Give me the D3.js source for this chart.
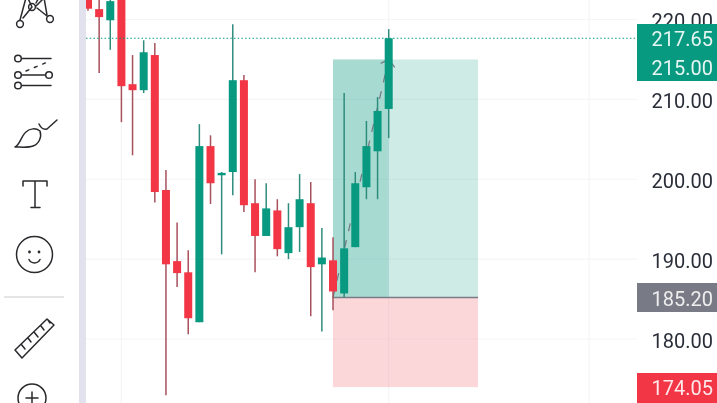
<!DOCTYPE html>
<html><head><meta charset="utf-8">
<script src="https://cdnjs.cloudflare.com/ajax/libs/d3/7.8.5/d3.min.js"></script>
<style>html,body{margin:0;padding:0;background:#fff;overflow:hidden}svg{display:block;filter:blur(.45px)}text{font-family:Roboto,sans-serif}</style>
</head><body><svg id="c" width="717" height="403"></svg>
<script>
const opens  = [223.2,221.3,219.9,223.7,211.9,211.15,215.55,198.65,189.75,188.35,182.1,204.15,200.5,200.9,212.4,197,192.9,196.1,190.75,194,197,189.35,189.85,185.7,191.5,199,203.5,208.8];
const closes = [221.35,220.3,222.3,211.65,211.15,215.9,198.4,189.35,188.25,182.6,204.15,199.5,200.8,212.4,196.75,192.9,196.35,191.25,194,197.5,189,190.2,185.95,191.35,199.5,204.15,208.55,217.65];
const highs  = [224,224.5,223.5,224.5,215.55,217.4,217.05,201.15,194.6,191.1,206.9,205.5,200.9,219.4,213.05,200,199.5,197.5,197,200.65,199.65,193.9,192.75,210.8,200.9,207.3,210.3,218.8];
const lows   = [221.1,213.3,216.2,207.15,203,210.8,197.1,172.95,186.5,180.6,182.1,196.9,190.6,198,195.9,188.35,192.9,190.35,190,190.9,182.85,180.95,183.6,185.2,191.5,197.5,197.5,205.15];
const tickValues = [220,210,200,190,180];
const gridIndexes = [3,27,45];
const lastPrice = 217.65, target = 215, entry = 185.2, stop = 174.05;
const entryIndex = 22, nowIndex = 27, endIndex = 35;

const svg = d3.select('#c');
const x = d3.scaleLinear().domain([0,27]).range([88,388.7]);
const y = d3.scaleLinear().domain([180,220]).range([339,19.5]);
const plotL = 86, plotR = 637, bw = 8;
const RED='#f23645', GREEN='#089981', GREY='#787b86';

// grid
const g = svg.append('g');
g.selectAll('.h').data(tickValues).join('line').attr('x1',plotL).attr('x2',plotR).attr('y1',d=>y(d)).attr('y2',d=>y(d)).attr('stroke','#f5f5f8').attr('stroke-width',1.2);
g.selectAll('.v').data(gridIndexes).join('line').attr('x1',d=>x(d)).attr('x2',d=>x(d)).attr('y1',0).attr('y2',403).attr('stroke','#f5f5f8').attr('stroke-width',1.2);

// position tool
const bx0 = 333, bx1 = 478;
g.append('rect').attr('x',bx0).attr('width',bx1-bx0).attr('y',y(target)).attr('height',y(entry)-y(target)).attr('fill',GREEN).attr('fill-opacity',.2);
g.append('rect').attr('x',bx0).attr('width',bx1-bx0).attr('y',y(entry)).attr('height',y(stop)-y(entry)+0.6).attr('fill',RED).attr('fill-opacity',.2);
g.append('rect').attr('x',bx0).attr('width',x(nowIndex)-bx0).attr('y',y(target)).attr('height',y(entry)-y(target)).attr('fill',GREEN).attr('fill-opacity',.2);
g.append('line').attr('x1',bx0).attr('x2',bx1).attr('y1',y(entry)).attr('y2',y(entry)).attr('stroke',GREY).attr('stroke-width',1.4);
// arrow
g.append('line').attr('x1',bx0).attr('y1',y(entry)).attr('x2',x(nowIndex)).attr('y2',y(target)).attr('stroke',GREY).attr('stroke-width',1.3).attr('stroke-dasharray','8 9');
g.append('path').attr('d',`M${x(nowIndex)-8},${y(target)+4}L${x(nowIndex)},${y(target)}L${x(nowIndex)+6},${y(target)+8}`).attr('fill','none').attr('stroke',GREY).attr('stroke-width',1.3);

// candles
const idx = d3.range(opens.length);
const col = i => closes[i]>=opens[i]?GREEN:RED;
const wickCol = i => closes[i]>=opens[i]?'#2f8c7c':'#a8505c';
g.selectAll('.w').data(idx).join('line').attr('x1',i=>x(i)).attr('x2',i=>x(i)).attr('y1',i=>y(highs[i])).attr('y2',i=>y(lows[i])).attr('stroke',wickCol).attr('stroke-width',1.5);
g.selectAll('.b').data(idx).join('rect').attr('x',i=>x(i)-bw/2).attr('width',bw)
 .attr('y',i=>y(Math.max(opens[i],closes[i]))).attr('height',i=>Math.max(1.5,Math.abs(y(opens[i])-y(closes[i])))).attr('fill',col);

// last price line
g.append('line').attr('x1',plotL).attr('x2',plotR).attr('y1',y(lastPrice)).attr('y2',y(lastPrice)).attr('stroke',GREEN).attr('stroke-width',1.1).attr('stroke-dasharray','1.5 2.2');

// left toolbar
svg.append('rect').attr('x',0).attr('y',0).attr('width',79).attr('height',403).attr('fill','#fff');
svg.append('rect').attr('x',79).attr('y',0).attr('width',7).attr('height',403).attr('fill','#e2e2ef');
const ic = svg.append('g').attr('fill','none').attr('stroke','#2a2a2e').attr('stroke-width',1.5).attr('stroke-linecap','round').attr('stroke-linejoin','round');
ic.append('path').attr('d','M23,18L32,7M37,8L47,16M20,20L27,-6M32,7L25,-8M36,3L42,-8M47,15L43,-8M36,6L44,-2');
[[20,24,3.4],[50,19,3.4],[32,7,3.4]].forEach(c=>ic.append('circle').attr('cx',c[0]).attr('cy',c[1]).attr('r',c[2]));
ic.append('path').attr('d','M22,58.5H51M22,75H45M22,85.5H51');
[[18,58.5,3.3],[18,75,3.3],[49,75,3.3],[18,85.5,3.3]].forEach(c=>ic.append('circle').attr('cx',c[0]).attr('cy',c[1]).attr('r',c[2]));
ic.append('path').attr('d','M26,71L50,61').attr('stroke-dasharray','3 6');
ic.append('path').attr('d','M15,147C20,145 21,136 26,132C30,128 36,128 40,131C42,137 39,144 33,146C28,148 20,147 15,147Z M39,124C41,128 44,130 47,129L57,120');
ic.append('path').attr('d','M23,186V181H47V186M35,181V207M31,207.5H40');
ic.append('circle').attr('cx',34.5).attr('cy',254.5).attr('r',18);
ic.append('path').attr('d','M29,259.5C31,264 38,264 40,259.5');
[[29.5,252],[39,252]].forEach(c=>ic.append('circle').attr('cx',c[0]).attr('cy',c[1]).attr('r',1.4).attr('fill','#2a2a2e').attr('stroke','none'));
svg.append('line').attr('x1',4).attr('x2',64).attr('y1',297).attr('y2',297).attr('stroke','#dcdcdc').attr('stroke-width',1.3);
ic.append('path').attr('d','M15,350L47,319L54,325L22,358Z M21,344L25,349M28,338L31,342M34,332L38,337M41,326L44,330M48,320L50,323');
ic.append('circle').attr('cx',32).attr('cy',398).attr('r',14);
ic.append('path').attr('d','M32,392V403M26,398H38');

// price axis
const ax = svg.append('g').attr('transform','translate(651.5,0)')
  .call(d3.axisRight(y).tickValues(tickValues).tickSize(0).tickPadding(0).tickFormat(d3.format('.2f')));
ax.select('.domain').remove();
ax.selectAll('text').attr('font-family','Roboto,sans-serif').attr('font-size',20).attr('fill','#2a2e39').attr('dy','.405em');

// price labels
const labels = [
  {top:24,bottom:81,fill:GREEN,c:'#e6f6f2',items:[[lastPrice,39],[target,68]]},
  {top:283,bottom:312,fill:GREY,c:'#eeeeee',items:[[entry,299]]},
  {top:373,bottom:403,fill:RED,c:'#fde8ea',items:[[stop,387.5]]}
];
labels.forEach(l=>{
  svg.append('rect').attr('x',637).attr('y',l.top).attr('width',80).attr('height',l.bottom-l.top).attr('fill',l.fill);
  l.items.forEach(it=>{
    svg.append('text').attr('x',651.5).attr('y',it[1]+7.1).attr('font-size',20).attr('fill',l.c).text(it[0].toFixed(2));
  });
});
</script></body></html>
